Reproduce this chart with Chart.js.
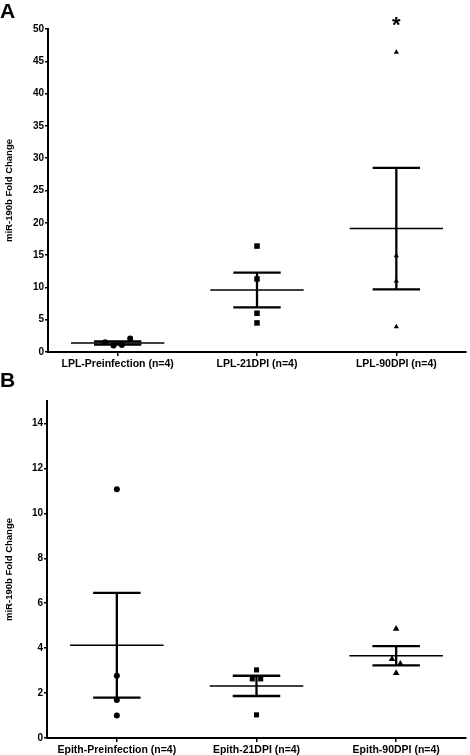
<!DOCTYPE html>
<html>
<head>
<meta charset="utf-8">
<script src="https://cdn.jsdelivr.net/npm/chart.js@4.4.0/dist/chart.umd.min.js"></script>
<style>
  body { margin: 0; background: #fff; }
  #wrap { position: relative; width: 470px; height: 755px; }
  .letter { position: absolute; left: 0; font: bold 21px/21px "Liberation Sans", Arial, sans-serif; color: #000; }
  canvas { position: absolute; left: 0; }
</style>
</head>
<body>
<div id="wrap">
  <canvas id="chartA" width="470" height="375" style="top:0"></canvas>
  <canvas id="chartB" width="470" height="380" style="top:375px"></canvas>
  <div class="letter" style="top:0">A</div>
  <div class="letter" style="top:369px">B</div>
</div>
<script>
// Panel A - lamina propria lymphocytes
var labelsA = ['LPL-Preinfection (n=4)', 'LPL-21DPI (n=4)', 'LPL-90DPI (n=4)'];
var preA = [1.5, 1.0, 1.1, 2.1];
var dpi21A = [16.4, 11.3, 6.0, 4.5];
var dpi90A = [46.4, 14.9, 11.0, 3.9];
var meanA = [1.4, 9.6, 19.1];
var semA = [0.25, 2.7, 9.4];
var yTicksA = [0, 5, 10, 15, 20, 25, 30, 35, 40, 45, 50];
var yMaxA = 50;
var sigA = ['', '', '*'];

// Panel B - epithelium
var labelsB = ['Epith-Preinfection (n=4)', 'Epith-21DPI (n=4)', 'Epith-90DPI (n=4)'];
var preB = [11.07, 2.77, 1.69, 1.0];
var dpi21B = [3.03, 2.63, 2.63, 1.03];
var dpi90B = [4.86, 3.51, 3.30, 2.89];
var meanB = [4.13, 2.32, 3.66];
var semB = [2.33, 0.45, 0.43];
var yTicksB = [0, 2, 4, 6, 8, 10, 12, 14];
var yMaxB = 15;
var sigB = ['', '', ''];

Chart.defaults.font.family = '"Liberation Sans", Arial, sans-serif';
Chart.defaults.color = '#000';

// spread points that would overlap, the way a column scatter does
function spreadOffsets(values, minGap) {
    var order = values.map(function (v, i) { return i; })
        .sort(function (a, b) { return values[b] - values[a]; });
    var offsets = values.map(function () { return 0; });
    var cluster = [order[0]];
    function flush() {
        cluster.sort(function (a, b) { return a - b; });
        cluster.forEach(function (idx, k) {
            offsets[idx] = (k - (cluster.length - 1) / 2) * 0.06;
        });
    }
    for (var k = 1; k < order.length; k++) {
        if (values[order[k - 1]] - values[order[k]] < minGap) {
            cluster.push(order[k]);
        } else {
            flush();
            cluster = [order[k]];
        }
    }
    flush();
    return offsets;
}

// asterisks above groups
var sigPlugin = {
    id: 'sig',
    afterDatasetsDraw: function (chart, args, opts) {
        var ctx = chart.ctx;
        ctx.save();
        ctx.font = 'bold 22px "Liberation Sans", Arial, sans-serif';
        ctx.textAlign = 'center';
        ctx.textBaseline = 'alphabetic';
        ctx.fillStyle = '#000';
        opts.marks.forEach(function (m, g) {
            if (m) ctx.fillText(m, chart.scales.x.getPixelForValue(g + 1), chart.chartArea.top + 3);
        });
        ctx.restore();
    }
};

function makeChart(id, p) {
    var datasets = [];
    var shapes = ['circle', 'rect', 'triangle'];
    p.series.forEach(function (vals, g) {
        var off = spreadOffsets(vals, p.yMax * 0.018);
        datasets.push({
            type: 'scatter',
            data: vals.map(function (v, i) { return { x: g + 1 + off[i], y: v }; }),
            pointStyle: shapes[g],
            pointRadius: p.radii[g],
            backgroundColor: '#000',
            borderColor: '#000',
            borderWidth: 0
        });
    });

    var meanPts = [], errPts = [];
    p.means.forEach(function (m, g) {
        var c = g + 1, lo = m - p.sems[g], hi = m + p.sems[g];
        meanPts.push({ x: c - 0.335, y: m }, { x: c + 0.335, y: m }, { x: c, y: null });
        errPts.push({ x: c - 0.17, y: hi }, { x: c + 0.17, y: hi }, { x: c, y: null },
                    { x: c - 0.17, y: lo }, { x: c + 0.17, y: lo }, { x: c, y: null },
                    { x: c, y: lo }, { x: c, y: hi }, { x: c, y: null });
    });
    datasets.push({ type: 'line', data: meanPts, borderColor: '#000', borderWidth: 1.5, pointRadius: 0, spanGaps: false, fill: false });
    datasets.push({ type: 'line', data: errPts, borderColor: '#000', borderWidth: 2.3, pointRadius: 0, spanGaps: false, fill: false });

    return new Chart(document.getElementById(id), {
        type: 'scatter',
        data: { datasets: datasets },
        plugins: [sigPlugin],
        options: {
            responsive: false,
            animation: false,
            events: [],
            layout: { padding: { top: p.top, right: 2, left: 0, bottom: 0 } },
            plugins: {
                legend: { display: false },
                tooltip: { enabled: false },
                sig: { marks: p.sig }
            },
            scales: {
                x: {
                    type: 'linear',
                    min: 0.5,
                    max: 3.5,
                    afterBuildTicks: function (s) { s.ticks = p.labels.map(function (l, i) { return { value: i + 1 }; }); },
                    afterFit: function (s) { s.height = p.xHeight; },
                    ticks: {
                        callback: function (v, i) { return p.labels[i]; },
                        font: { size: 10.5, weight: 'bold' },
                        color: '#000',
                        padding: 2,
                        maxRotation: 0,
                        autoSkip: false
                    },
                    grid: { drawOnChartArea: false, tickLength: 4, color: '#000', lineWidth: 1.5 },
                    border: { color: '#000', width: 2 }
                },
                y: {
                    min: 0,
                    max: p.yMax,
                    afterBuildTicks: function (s) { s.ticks = p.yTicks.map(function (v) { return { value: v }; }); },
                    afterFit: function (s) { s.width = p.yWidth; },
                    ticks: { font: { size: 10, weight: 'bold' }, color: '#000', padding: 1 },
                    grid: { drawOnChartArea: false, tickLength: 3, color: '#000', lineWidth: 1.5 },
                    border: { color: '#000', width: 2 },
                    title: {
                        display: true,
                        text: 'miR-190b Fold Change',
                        font: { size: 9.5, weight: 'bold' },
                        color: '#000',
                        padding: { top: 4, bottom: 0 }
                    }
                }
            }
        }
    });
}

makeChart('chartA', {
    labels: labelsA, series: [preA, dpi21A, dpi90A], means: meanA, sems: semA,
    yTicks: yTicksA, yMax: yMaxA, sig: sigA, radii: [3, 3.9, 3],
    top: 29, xHeight: 23, yWidth: 48
});
makeChart('chartB', {
    labels: labelsB, series: [preB, dpi21B, dpi90B], means: meanB, sems: semB,
    yTicks: yTicksB, yMax: yMaxB, sig: sigB, radii: [3, 3.6, 3.8],
    top: 26, xHeight: 17, yWidth: 47
});
</script>
</body>
</html>
